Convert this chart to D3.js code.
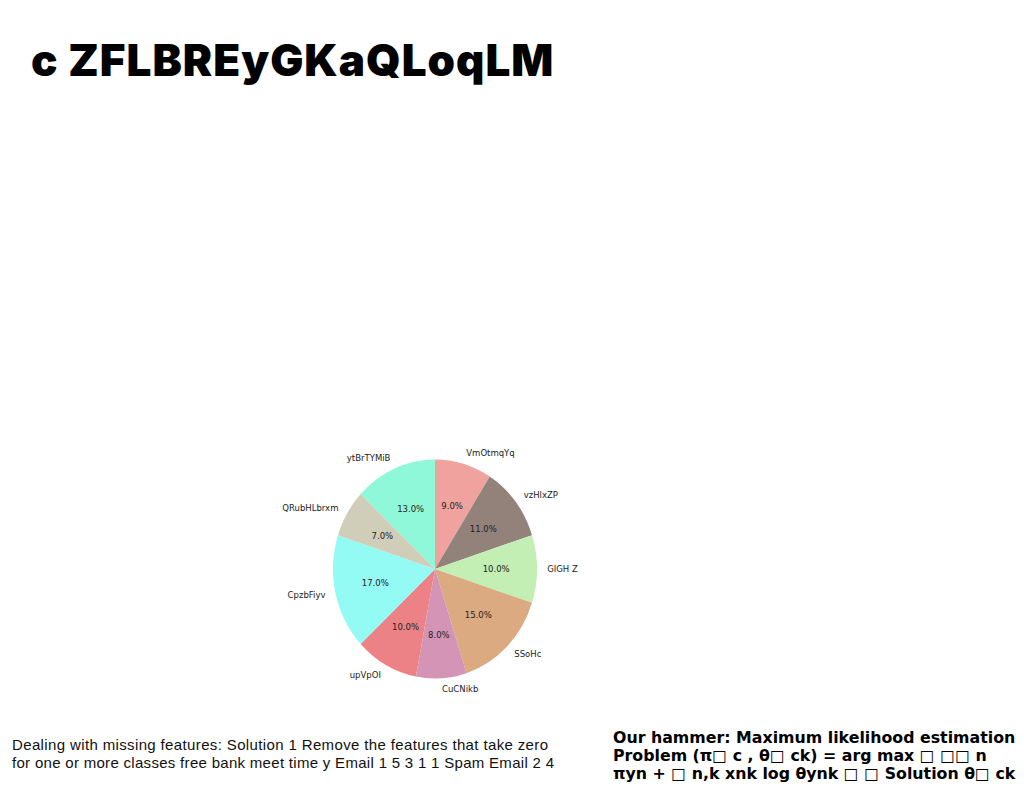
<!DOCTYPE html>
<html>
<head>
<meta charset="utf-8">
<script src="https://cdn.jsdelivr.net/npm/d3@7"></script>
<style>
body{margin:0;background:#fff;}
svg{display:block;}
</style>
</head>
<body>
<svg id="chart" width="1024" height="788"></svg>
<script>
const title = "c ZFLBREyGKaQLoqLM";
const categories = ["VmOtmqYq","vzHlxZP","GIGH Z","SSoHc","CuCNikb","upVpOI","CpzbFiyv","QRubHLbrxm","ytBrTYMiB"];
const values = [9,11,10,15,8,10,17,7,13];
const colors = ["#f0a39e","#928279","#c3efb4","#dcaa81","#d494b5","#ec8285","#93faf4","#d0cdb8","#8ff8d8"];
const leftText = ["Dealing with missing features: Solution 1 Remove the features that take zero",
                  "for one or more classes free bank meet time y Email 1 5 3 1 1 Spam Email 2 4"];
const rightText = ["Our hammer: Maximum likelihood estimation",
                   "Problem (\u03c0\u25a1 c , \u03b8\u25a1 ck) = arg max \u25a1 \u25a1\u25a1 n",
                   "\u03c0yn + \u25a1 n,k xnk log \u03b8ynk \u25a1 \u25a1 Solution \u03b8\u25a1 ck"];

const svg = d3.select("#chart");
svg.append("text").attr("x",31).attr("y",76)
  .attr("font-family","Inter").attr("font-weight",900).attr("font-size",44)
  .attr("letter-spacing",1).attr("fill","#000").text(title);

const cx = 435, cy = 569, rx = 102, ry = 109.5;
const total = d3.sum(values);
const pie = d3.pie().sort(null).value(d=>d)(values);
const arc = d3.arc().innerRadius(0).outerRadius(1);
const g = svg.append("g").attr("transform",`translate(${cx},${cy}) scale(${rx},${ry})`);
g.selectAll("path").data(pie).join("path")
  .attr("d",arc).attr("fill",(d,i)=>colors[i]);

const lab = svg.append("g").attr("font-family","DejaVu Sans").attr("font-size",8.5).attr("fill","#222");
pie.forEach((d,i)=>{
  const a = (d.startAngle+d.endAngle)/2;
  const sx = Math.sin(a), sy = -Math.cos(a);
  lab.append("text").attr("x",cx+0.6*rx*sx).attr("y",cy+0.6*ry*sy)
    .attr("text-anchor","middle").attr("dominant-baseline","central")
    .text(d3.format(".1f")(values[i]/total*100)+"%");
  lab.append("text").attr("x",cx+1.1*rx*sx).attr("y",cy+1.1*ry*sy)
    .attr("text-anchor", sx>0?"start":"end").attr("dominant-baseline","central")
    .text(categories[i]);
});

const leftWidths = [536, 542];
const lg = svg.append("g").attr("font-family","Liberation Sans").attr("font-size",15).attr("fill","#111");
leftText.forEach((t,i)=>lg.append("text").attr("x",12).attr("y",750+i*17.5)
  .attr("textLength",leftWidths[i]).attr("lengthAdjust","spacing").text(t));
const rg = svg.append("g").attr("font-family","DejaVu Sans").attr("font-weight","bold").attr("font-size",15.8).attr("fill","#000");
rightText.forEach((t,i)=>rg.append("text").attr("x",613).attr("y",743+i*18).text(t));
</script>
</body>
</html>
